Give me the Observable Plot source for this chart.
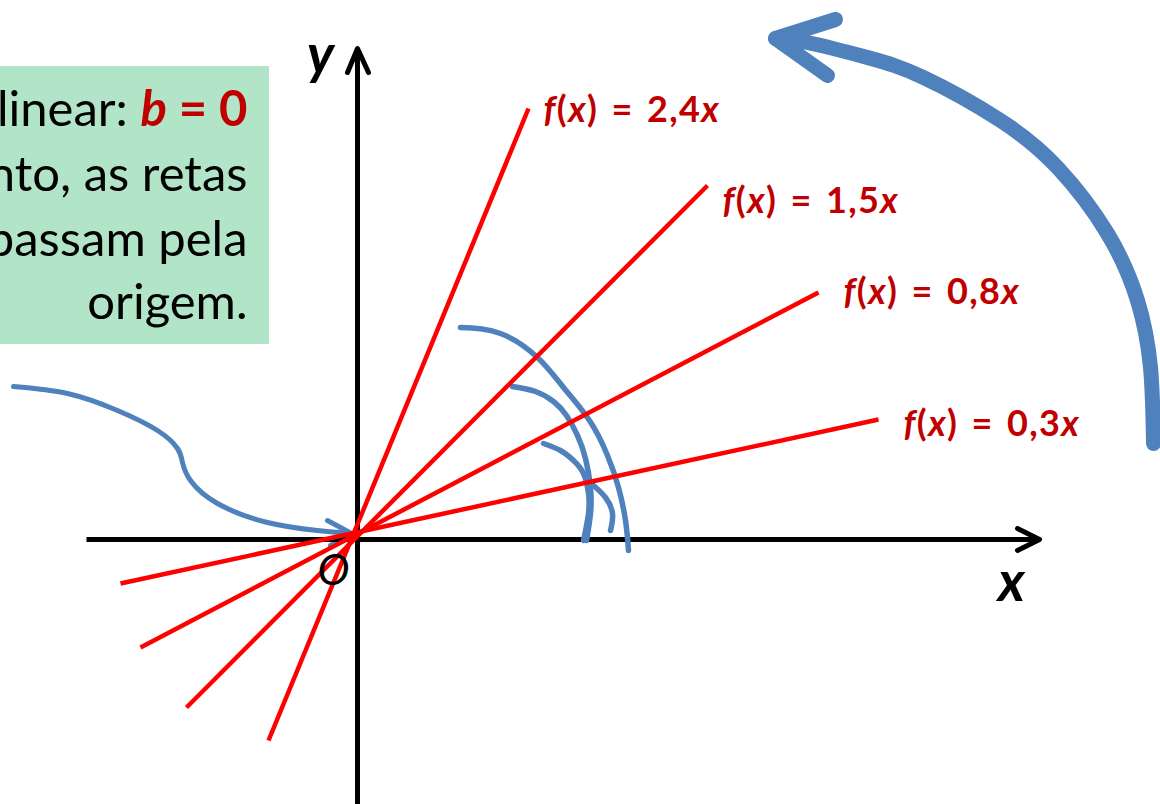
<!DOCTYPE html>
<html><head><meta charset="utf-8">
<script src="https://cdn.jsdelivr.net/npm/d3@7"></script>
<script src="https://cdn.jsdelivr.net/npm/@observablehq/plot@0.6"></script>
<style>
html,body{margin:0;padding:0;background:#fff;}
#chart svg{display:block;overflow:hidden;}
</style></head><body><div id="chart"></div>
<script>
// ---- data (diagram units: 1 unit on both axes, origin O) ----
const slopeLabels = ["2,4", "1,5", "0,8", "0,3"];
const lineStartX = [-0.89, -1.71, -2.17, -2.37];
const lineStartY = [-2.01, -1.68, -1.08, -0.44];
const lineEndX = [1.71, 3.50, 4.61, 5.21];
const lineEndY = [4.31, 3.54, 2.47, 1.20];
const labelX = [1.86, 3.65, 4.86, 5.46];
const labelY = [4.18, 3.27, 2.36, 1.04];

const xDomain = [-3.57, 8.03];
const yDomain = [-2.65, 5.39];
const xAxisExtent = [-2.71, 6.82];
const yAxisExtent = [-2.70, 4.91];
const xArrowHead = [[6.60, 0.11], [6.82, 0], [6.60, -0.11]];
const yArrowHead = [[-0.10, 4.67], [0, 4.91], [0.11, 4.67]];

const noteBox = [{x1: -3.57, x2: -0.88, y1: 1.95, y2: 4.73}];
const noteLines = ["linear: b = 0", "nto, as retas", "passam pela", "origem."];
const noteBaselines = [4.14, 3.49, 2.84, 2.21];
const noteRight = -1.10;

const angleArcs = {
  A: [[1.03,2.12],[1.43,2.06],[1.80,1.82],[2.06,1.52],[2.32,1.19],[2.50,0.84],[2.61,0.52],[2.68,0.19],[2.71,-0.11]],
  B: [[1.55,1.53],[1.78,1.48],[1.96,1.38],[2.09,1.24],[2.20,1.04],[2.28,0.81],[2.33,0.52],[2.33,0.26],[2.29,-0.01]],
  C: [[1.86,0.96],[2.03,0.89],[2.16,0.79],[2.26,0.66],[2.31,0.46],[2.31,0.26],[2.26,-0.01]],
  D: [[2.36,0.54],[2.48,0.42],[2.55,0.26],[2.53,0.09]]
};
const pointerCurve = [[-3.44,1.53],[-2.90,1.46],[-2.40,1.29],[-2.00,1.09],[-1.80,0.91],[-1.75,0.77],[-1.67,0.59],[-1.40,0.36],[-0.90,0.17],[-0.40,0.09],[-0.06,0.06]];
const pointerHead = [[-0.30,0.19],[-0.06,0.06],[-0.27,-0.06]];
const rotationCurve = [[7.96,0.96],[7.93,1.72],[7.80,2.39],[7.50,3.06],[7.00,3.72],[6.43,4.19],[5.66,4.62],[5.10,4.82],[4.50,4.97],[4.18,5.01]];
const rotationHead = [[4.78,5.20],[4.18,5.01],[4.70,4.64]];

// ---- build tables ----
const redLines = slopeLabels.map((k, i) => ({k, x1: lineStartX[i], y1: lineStartY[i], x2: lineEndX[i], y2: lineEndY[i]}));
const redLabels = slopeLabels.map((k, i) => ({text: `f(x) = ${k}x`, x: labelX[i], y: labelY[i]}));
const arcRows = Object.entries(angleArcs).flatMap(([id, pts]) => pts.map(([x, y]) => ({id, x, y})));
const toRows = pts => pts.map(([x, y]) => ({x, y}));
const notes = noteLines.map((t, i) => ({t, y: noteBaselines[i]}));

const BLUE = "#4F81BD", RED = "#FF0000", DARKRED = "#C00000";
const FONT = "Lato, 'Open Sans', sans-serif";

const chart = Plot.plot({
  width: 1160, height: 804, margin: 0,
  x: {domain: xDomain, axis: null},
  y: {domain: yDomain, axis: null},
  style: {background: "white", fontFamily: FONT},
  marks: [
    Plot.rect(noteBox, {x1: "x1", x2: "x2", y1: "y1", y2: "y2", fill: "#B2E5C8"}),
    Plot.text(notes, {x: noteRight, y: "y", text: "t", textAnchor: "end", lineAnchor: "bottom", fontSize: 49, fontFamily: FONT, fill: "black"}),
    // pointer arrow towards origin
    Plot.line(toRows(pointerCurve), {x: "x", y: "y", curve: "natural", stroke: BLUE, strokeWidth: 5}),
    Plot.line(toRows(pointerHead), {x: "x", y: "y", stroke: BLUE, strokeWidth: 5, strokeLinecap: "round", strokeLinejoin: "round"}),
    // axes
    Plot.link([{x1: xAxisExtent[0], x2: xAxisExtent[1], y1: 0, y2: 0}], {x1: "x1", x2: "x2", y1: "y1", y2: "y2", stroke: "black", strokeWidth: 5}),
    Plot.link([{x1: 0, x2: 0, y1: yAxisExtent[0], y2: yAxisExtent[1]}], {x1: "x1", x2: "x2", y1: "y1", y2: "y2", stroke: "black", strokeWidth: 5}),
    Plot.line(toRows(xArrowHead), {x: "x", y: "y", stroke: "black", strokeWidth: 5, strokeLinecap: "round", strokeLinejoin: "round"}),
    Plot.line(toRows(yArrowHead), {x: "x", y: "y", stroke: "black", strokeWidth: 5, strokeLinecap: "round", strokeLinejoin: "round"}),
    // angle arcs
    Plot.line(arcRows, {x: "x", y: "y", z: "id", curve: "natural", stroke: BLUE, strokeWidth: 5.5}),
    // lines f(x) = kx
    Plot.link(redLines, {x1: "x1", y1: "y1", x2: "x2", y2: "y2", stroke: RED, strokeWidth: 4.5}),
    // rotation arrow
    Plot.line(toRows(rotationCurve), {x: "x", y: "y", curve: "natural", stroke: BLUE, strokeWidth: 15, strokeLinecap: "round"}),
    Plot.line(toRows(rotationHead), {x: "x", y: "y", stroke: BLUE, strokeWidth: 15, strokeLinecap: "round", strokeLinejoin: "round"}),
    // labels
    Plot.text(redLabels, {x: "x", y: "y", text: "text", textAnchor: "start", lineAnchor: "bottom", fontSize: 36, fontWeight: "bold", fontFamily: FONT, fill: DARKRED}),
    Plot.text([{t: "y", x: -0.37, y: 4.66}], {x: "x", y: "y", text: "t", lineAnchor: "bottom", fontSize: 55, fontWeight: "bold", fontStyle: "italic", fontFamily: FONT, fill: "black"}),
    Plot.text([{t: "x", x: 6.54, y: -0.61}], {x: "x", y: "y", text: "t", lineAnchor: "bottom", fontSize: 55, fontWeight: "bold", fontStyle: "italic", fontFamily: FONT, fill: "black"}),
    Plot.text([{t: "O", x: -0.24, y: -0.45}], {x: "x", y: "y", text: "t", lineAnchor: "bottom", fontSize: 43, fontStyle: "italic", fontFamily: FONT, fill: "black"})
  ]
});

// rich text: italic variables, bold red "b = 0"
const svgNS = "http://www.w3.org/2000/svg";
function setParts(el, parts) {
  el.textContent = "";
  for (const p of parts) {
    const ts = document.createElementNS(svgNS, "tspan");
    ts.textContent = p.s;
    if (p.italic) ts.setAttribute("font-style", "italic");
    if (p.bold) ts.setAttribute("font-weight", "bold");
    if (p.fill) ts.setAttribute("fill", p.fill);
    el.appendChild(ts);
  }
}
d3.select(chart).selectAll("text").each(function () {
  const t = this.textContent;
  if (/^f\(x\)/.test(t)) {
    this.setAttribute("letter-spacing", "1.4px");
    this.setAttribute("word-spacing", "3px");
    setParts(this, t.match(/[fx]|[^fx]+/g).map(s => ({s, italic: s === "f" || s === "x"})));
  } else if (t === noteLines[0]) {
    setParts(this, [{s: "linear: "}, {s: "b", italic: true, bold: true, fill: DARKRED}, {s: " = 0", bold: true, fill: DARKRED}]);
  }
});
document.getElementById("chart").append(chart);
</script></body></html>
